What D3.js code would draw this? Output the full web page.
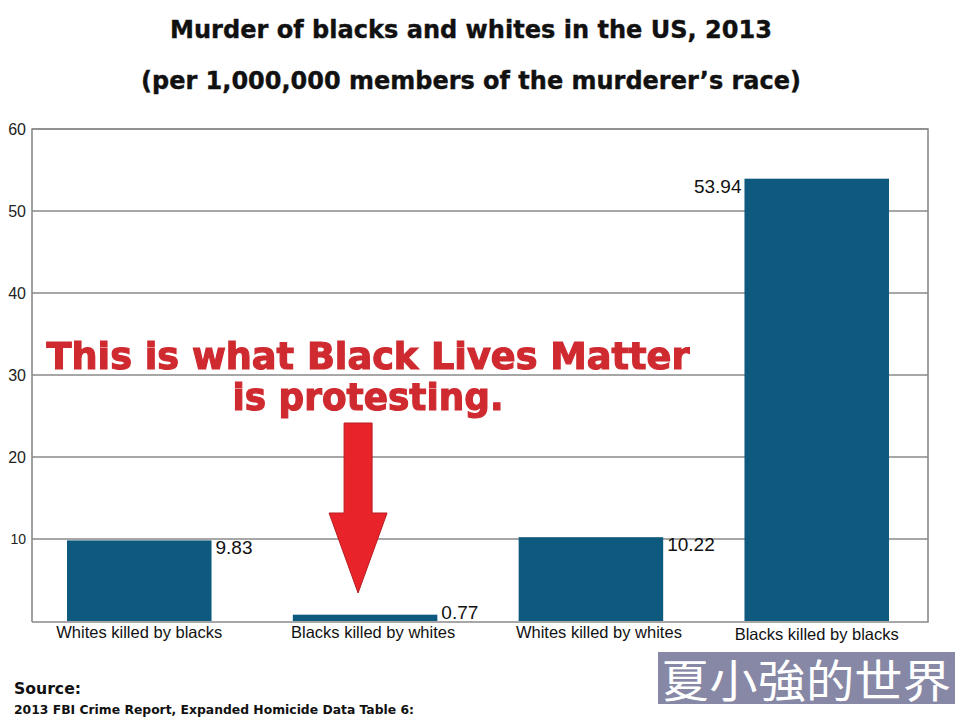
<!DOCTYPE html>
<html>
<head>
<meta charset="utf-8">
<script src="https://cdn.jsdelivr.net/npm/d3@7"></script>
<style>
  html, body { margin: 0; padding: 0; background: #fff; }
  svg { display: block; }
</style>
</head>
<body>
<svg id="chart" width="960" height="720"></svg>
<script>
// values
const categories = ['Whites killed by blacks', 'Blacks killed by whites', 'Whites killed by whites', 'Blacks killed by blacks']
const rates = [9.83, 0.77, 10.22, 53.94]
const yTicks = [10, 20, 30, 40, 50, 60]
const titleLines = ['Murder of blacks and whites in the US, 2013', '(per 1,000,000 members of the murderer\u2019s race)']
const noteLines = ['This is what Black Lives Matter', 'is protesting.']
const sourceLines = ['Source:', '2013 FBI Crime Report, Expanded Homicide Data Table 6:']
const watermark = '夏小強的世界'

const svg = d3.select('#chart')
const plotLeft = 32, plotRight = 928, plotTop = 129, plotBottom = 621

const x = d3.scaleBand().domain(categories).range([plotLeft, plotRight - 4]).paddingInner(0.36).paddingOuter(0.155)
const y = d3.scaleLinear().domain([0, 60]).range([plotBottom, plotTop])

// titles
svg.selectAll('.title')
  .data(titleLines)
  .enter().append('text')
  .attr('class', 'title')
  .attr('x', 471)
  .attr('y', function (d, i) { return i === 0 ? 38 : 89 })
  .attr('text-anchor', 'middle')
  .attr('textLength', function (d, i) { return i === 0 ? 602 : 660 })
  .attr('lengthAdjust', 'spacingAndGlyphs')
  .style('font-family', 'DejaVu Sans, sans-serif')
  .style('font-weight', 'bold')
  .style('font-size', '25px')
  .style('fill', '#111')
  .style('stroke', '#111')
  .style('stroke-width', 0.4)
  .text(function (d) { return d })

// grid + frame
const g = svg.append('g')

g.selectAll('.grid')
  .data(yTicks)
  .enter().append('line')
  .attr('class', 'grid')
  .attr('x1', plotLeft).attr('x2', plotRight)
  .attr('y1', function (d) { return y(d) })
  .attr('y2', function (d) { return y(d) })
  .style('stroke', '#8a8a8a')
  .style('stroke-width', 1.6)

g.append('path')
  .attr('d', 'M' + plotLeft + ',' + (plotBottom + 1) + 'V' + plotTop + 'H' + plotRight + 'V' + (plotBottom + 1) + 'H' + plotLeft)
  .style('fill', 'none')
  .style('stroke', '#8a8a8a')
  .style('stroke-width', 1.6)

const yAxis = g.append('g')
  .attr('transform', 'translate(' + plotLeft + ',0)')
  .call(d3.axisLeft(y).tickValues(yTicks).tickSize(0).tickPadding(6))
yAxis.select('.domain').remove()
yAxis.selectAll('text')
  .style('font-family', 'Liberation Sans, Arial, sans-serif')
  .style('font-size', function (d) { return d === 10 ? '14px' : '16px' })
  .style('fill', '#222')

// bars
g.selectAll('.bar')
  .data(rates)
  .enter().append('rect')
  .attr('class', 'bar')
  .attr('x', function (d, i) { return x(categories[i]) })
  .attr('y', function (d) { return y(d) })
  .attr('width', x.bandwidth())
  .attr('height', function (d) { return plotBottom - y(d) })
  .style('fill', '#0e597e')

const maxRate = d3.max(rates)

g.selectAll('.barValue')
  .data(rates)
  .enter().append('text')
  .attr('class', 'barValue')
  .attr('x', function (d, i) {
    return d === maxRate ? x(categories[i]) - 3 : x(categories[i]) + x.bandwidth() + 4
  })
  .attr('y', function (d) { return Math.min(y(d), plotBottom - 16) })
  .attr('dy', '0.74em')
  .attr('text-anchor', function (d) { return d === maxRate ? 'end' : 'start' })
  .style('font-family', 'Liberation Sans, Arial, sans-serif')
  .style('font-size', '19px')
  .style('fill', '#111')
  .text(function (d) { return d3.format('.2f')(d) })

// category labels
g.selectAll('.cat')
  .data(categories)
  .enter().append('text')
  .attr('class', 'cat')
  .attr('x', function (d, i) { return x(d) + x.bandwidth() / 2 + (i === 1 || i === 2 ? 8 : 0) })
  .attr('y', function (d, i) { return i === 3 ? 640 : 638 })
  .attr('text-anchor', 'middle')
  .style('font-family', 'Liberation Sans, Arial, sans-serif')
  .style('font-size', '16.5px')
  .style('fill', '#111')
  .text(function (d) { return d })

// annotation arrow pointing at the smallest bar
const ax = x(categories[1]) + x.bandwidth() / 2 - 7
const arrow = d3.path()
arrow.moveTo(ax - 14, 423)
arrow.lineTo(ax + 14, 423)
arrow.lineTo(ax + 14, 513)
arrow.lineTo(ax + 29, 513)
arrow.lineTo(ax, 593)
arrow.lineTo(ax - 29, 513)
arrow.lineTo(ax - 14, 513)
arrow.closePath()
svg.append('path')
  .attr('d', arrow.toString())
  .style('fill', '#e8232a')
  .style('stroke', '#b81c22')
  .style('stroke-width', 1)

svg.selectAll('.note')
  .data(noteLines)
  .enter().append('text')
  .attr('class', 'note')
  .attr('x', 368)
  .attr('y', function (d, i) { return i === 0 ? 369 : 410 })
  .attr('text-anchor', 'middle')
  .attr('textLength', function (d, i) { return i === 0 ? 643 : 271 })
  .attr('lengthAdjust', 'spacingAndGlyphs')
  .style('font-family', 'DejaVu Sans, sans-serif')
  .style('font-weight', 'bold')
  .style('font-size', '38px')
  .style('fill', '#cf2a30')
  .style('stroke', '#cf2a30')
  .style('stroke-width', 1.2)
  .style('filter', 'drop-shadow(0 0 1.5px #fff)')
  .text(function (d) { return d })

// source
svg.selectAll('.source')
  .data(sourceLines)
  .enter().append('text')
  .attr('class', 'source')
  .attr('x', 14)
  .attr('y', function (d, i) { return i === 0 ? 694 : 714 })
  .attr('textLength', function (d, i) { return i === 0 ? 67 : 400 })
  .attr('lengthAdjust', 'spacingAndGlyphs')
  .style('font-family', 'DejaVu Sans, sans-serif')
  .style('font-weight', 'bold')
  .style('font-size', function (d, i) { return i === 0 ? '16px' : '12px' })
  .style('fill', '#111')
  .text(function (d) { return d })

// watermark
svg.append('rect')
  .attr('x', 658).attr('y', 652)
  .attr('width', 297).attr('height', 52)
  .style('fill', '#8787a6')
svg.append('text')
  .attr('x', 806).attr('y', 698)
  .attr('text-anchor', 'middle')
  .attr('textLength', 290)
  .attr('lengthAdjust', 'spacingAndGlyphs')
  .style('font-family', 'Noto Sans CJK TC, sans-serif')
  .style('font-size', '45px')
  .style('fill', '#fff')
  .text(watermark)
</script>
</body>
</html>
